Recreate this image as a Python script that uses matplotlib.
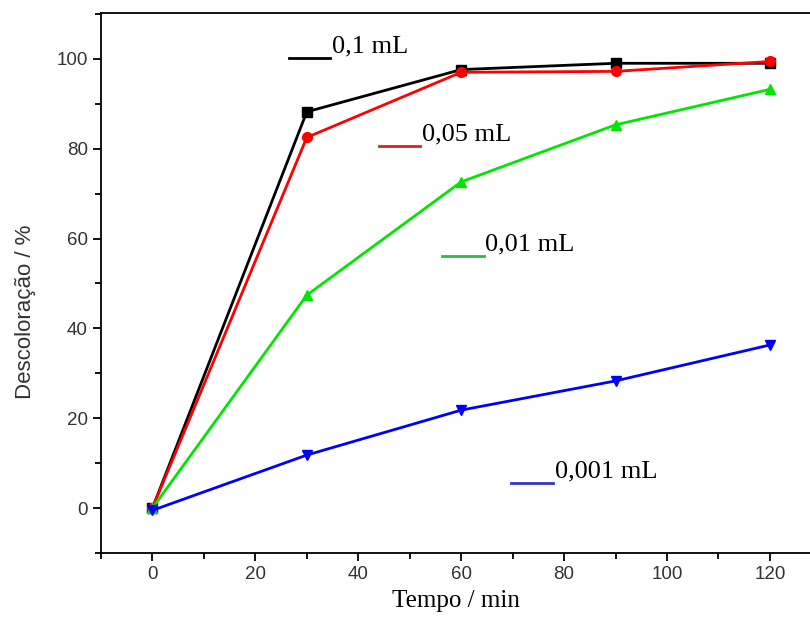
#!/usr/bin/env python3
"""Descoloração vs tempo for different volumes."""

from matplotlib import pyplot as plt
from matplotlib.ticker import MultipleLocator

tempo = [0, 30, 60, 90, 120]
desc_01 = [0, 88.2, 97.6, 99.0, 99.0]
desc_005 = [0, 82.5, 97.0, 97.2, 99.4]
desc_001 = [0, 47.4, 72.6, 85.3, 93.2]
desc_0001 = [-0.5, 11.8, 21.8, 28.3, 36.3]

series = [
    (desc_01, "black", "s", "black", "0,1 mL", (26.5, 34.5, 100.2)),
    (desc_005, "#ff0000", "o", "#e02020", "0,05 mL", (44.0, 52.0, 80.6)),
    (desc_001, "#00e600", "^", "#2db84d", "0,01 mL", (56.2, 64.4, 56.1)),
    (desc_0001, "#0000ff", "v", "#3434c8", "0,001 mL", (69.7, 77.9, 5.6)),
]

fig = plt.figure(figsize=(8.1, 6.36), dpi=100)
ax = fig.add_axes([0.1247, 0.1305, 0.8753, 0.8491])

for y, color, marker, lcolor, label, (x0, x1, ly) in series:
    ax.plot(tempo, y, color=color, marker=marker, markersize=7, lw=2)
    ax.plot([x0, x1], [ly, ly], color=lcolor, lw=2)
    ax.text(x1 + 0.3, ly + 0.2, label, family="Liberation Serif",
            fontsize=19, ha="left", va="bottom")

ax.set_xlim(-10, 127.8)
ax.set_ylim(-10, 110.2)
ax.xaxis.set_major_locator(MultipleLocator(20))
ax.xaxis.set_minor_locator(MultipleLocator(10))
ax.yaxis.set_major_locator(MultipleLocator(20))
ax.yaxis.set_minor_locator(MultipleLocator(10))
ax.tick_params(which="both", direction="out", width=1.3, top=False,
               right=False, labelsize=13.5, labelcolor="#333333")
ax.tick_params(which="major", length=6)
ax.tick_params(which="minor", length=4)
for lab in ax.get_xticklabels() + ax.get_yticklabels():
    lab.set_family("Liberation Sans")
ax.spines["right"].set_visible(False)
for s in ("left", "bottom", "top"):
    ax.spines[s].set_linewidth(1.3)

ax.set_xlabel("Tempo / min", family="Liberation Serif", fontsize=18,
              labelpad=5)
ax.set_ylabel("Descoloração / %", family="Liberation Sans", fontsize=16,
              color="#333333")
ax.yaxis.set_label_coords(-0.092, 0.446)

fig.savefig("out.png", dpi=100)
